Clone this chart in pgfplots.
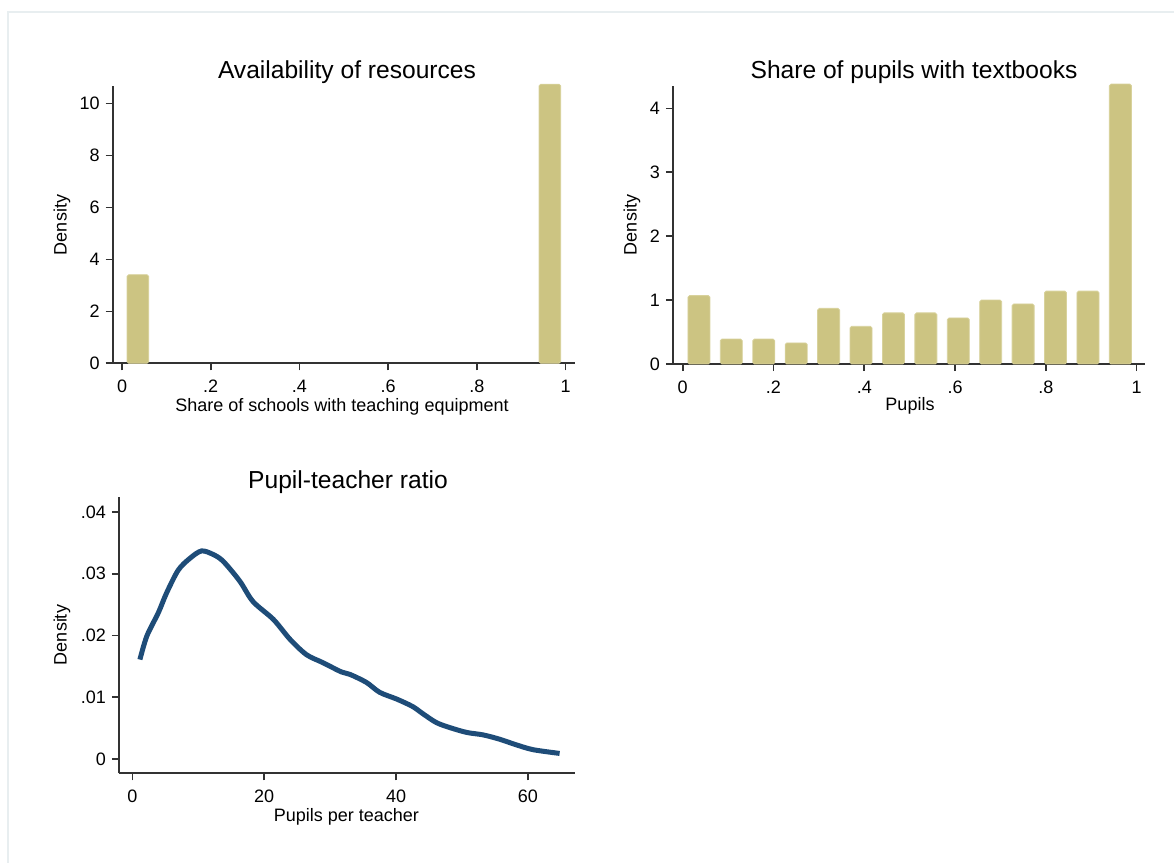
\documentclass[border=0pt]{standalone}
\usepackage{fontspec}
\setmainfont{Liberation Sans}
\usepackage{pgfplots}
\pgfplotsset{compat=1.18}
\definecolor{barcol}{RGB}{204,196,130}
\definecolor{baredge}{RGB}{216,210,156}
\definecolor{curvecol}{RGB}{30,76,120}
\definecolor{axcol}{RGB}{50,50,50}
\definecolor{framecol}{RGB}{232,238,240}
\newcommand{\lblfont}{\fontsize{9}{11}\selectfont}
\newcommand{\ttlfont}{\fontsize{12.3}{14}\selectfont}
\pgfplotsset{
  stata/.style={
    scale only axis,
    anchor=south west,
    axis x line*=bottom,
    axis y line*=left,
    axis line style={line width=1pt, color=axcol, -},
    tick align=outside,
    major tick length=3.6pt,
    tick style={line width=0.8pt, color=axcol},
    tick label style={font=\lblfont},
    xticklabel style={yshift=-1.4pt},
    yticklabel style={xshift=0.6pt},
    /pgf/number format/assume math mode=true,
    scaled ticks=false,
    clip=false,
  }
}
\begin{document}
\begin{tikzpicture}
\path[use as bounding box] (0,0) rectangle (587pt,431.5pt);
\draw[framecol, line width=1pt] (4pt,0) -- (4pt,425.5pt) -- (587pt,425.5pt);

% Panel 1: Availability of resources
\begin{axis}[stata,
  at={(56.35pt,249.85pt)}, width=231.15pt, height=138.65pt,
  xmin=-0.021, xmax=1.021, ymin=0, ymax=10.67,
  xtick={0,0.2,0.4,0.6,0.8,1}, xticklabels={0,.2,.4,.6,.8,1},
  ytick={0,2,4,6,8,10}, yticklabels={0,2,4,6,8,10},
]
\addplot[ybar, bar width=0.0485, fill=barcol, draw=baredge, line width=0.4pt, rounded corners=0.8pt]
  coordinates {(0.0357,3.41) (0.9643,10.74)};
\end{axis}

% Panel 2: Share of pupils with textbooks
\begin{axis}[stata,
  at={(336.5pt,249.5pt)}, width=236pt, height=139pt,
  xmin=-0.0214, xmax=1.0185, ymin=0, ymax=4.35,
  xtick={0,0.2,0.4,0.6,0.8,1}, xticklabels={0,.2,.4,.6,.8,1},
  ytick={0,1,2,3,4}, yticklabels={0,1,2,3,4},
]
\addplot[ybar, bar width=0.0485, fill=barcol, draw=baredge, line width=0.4pt, rounded corners=0.8pt]
  coordinates {
  (0.0357,1.07) (0.1071,0.39) (0.1786,0.39) (0.2500,0.33)
  (0.3214,0.87) (0.3929,0.59) (0.4643,0.80) (0.5357,0.80)
  (0.6071,0.72) (0.6786,1.00) (0.7500,0.94) (0.8214,1.14)
  (0.8929,1.14) (0.9643,4.38)};
\end{axis}

% Panel 3: Pupil-teacher ratio
\begin{axis}[stata,
  at={(59.5pt,44.85pt)}, width=228pt, height=138.3pt,
  xmin=-2.02, xmax=67.13, ymin=-0.00232, ymax=0.04248,
  xtick={0,20,40,60}, xticklabels={0,20,40,60},
  ytick={0,0.01,0.02,0.03,0.04}, yticklabels={0,.01,.02,.03,.04},
]
\addplot[smooth, line width=2.5pt, color=curvecol] coordinates {
  (1.15,0.0161) (2.2,0.0199) (3.95,0.0237) (5.2,0.0269) (6.97,0.0306)
  (8.74,0.0325) (10.5,0.0337) (12.3,0.0331) (13.8,0.0320) (16.3,0.0288)
  (18.3,0.0255) (21.4,0.0226) (23.9,0.0194) (26.4,0.0169) (28.9,0.0156)
  (31.7,0.0141) (33.0,0.0137) (35.5,0.0124) (37.5,0.0108) (40.1,0.0097)
  (42.5,0.0085) (44.1,0.0073) (46.1,0.0059) (48.1,0.0051) (50.7,0.0043)
  (53.2,0.0039) (55.7,0.0032) (58.2,0.0023) (60.8,0.0015) (64.8,0.0009)};
\end{axis}

\begin{scope}[x=0.5pt, y=-0.5pt, shift={(0,431.5pt)}]
  \node[anchor=base, inner sep=0] at (347,79) {\ttlfont Availability of resources};
  \node[anchor=base, inner sep=0] at (914,79) {\ttlfont Share of pupils with textbooks};
  \node[anchor=base, inner sep=0] at (348,489) {\ttlfont Pupil-teacher ratio};
  \node[anchor=base, inner sep=0] at (342,411.7) {\lblfont Share of schools with teaching equipment};
  \node[anchor=base, inner sep=0] at (910,410.5) {\lblfont Pupils};
  \node[anchor=base, inner sep=0] at (346.3,822) {\lblfont Pupils per teacher};
  \node[rotate=90, inner sep=0] at (62,225) {\lblfont Density};
  \node[rotate=90, inner sep=0] at (632,225) {\lblfont Density};
  \node[rotate=90, inner sep=0] at (62,635) {\lblfont Density};
\end{scope}
\end{tikzpicture}
\end{document}
